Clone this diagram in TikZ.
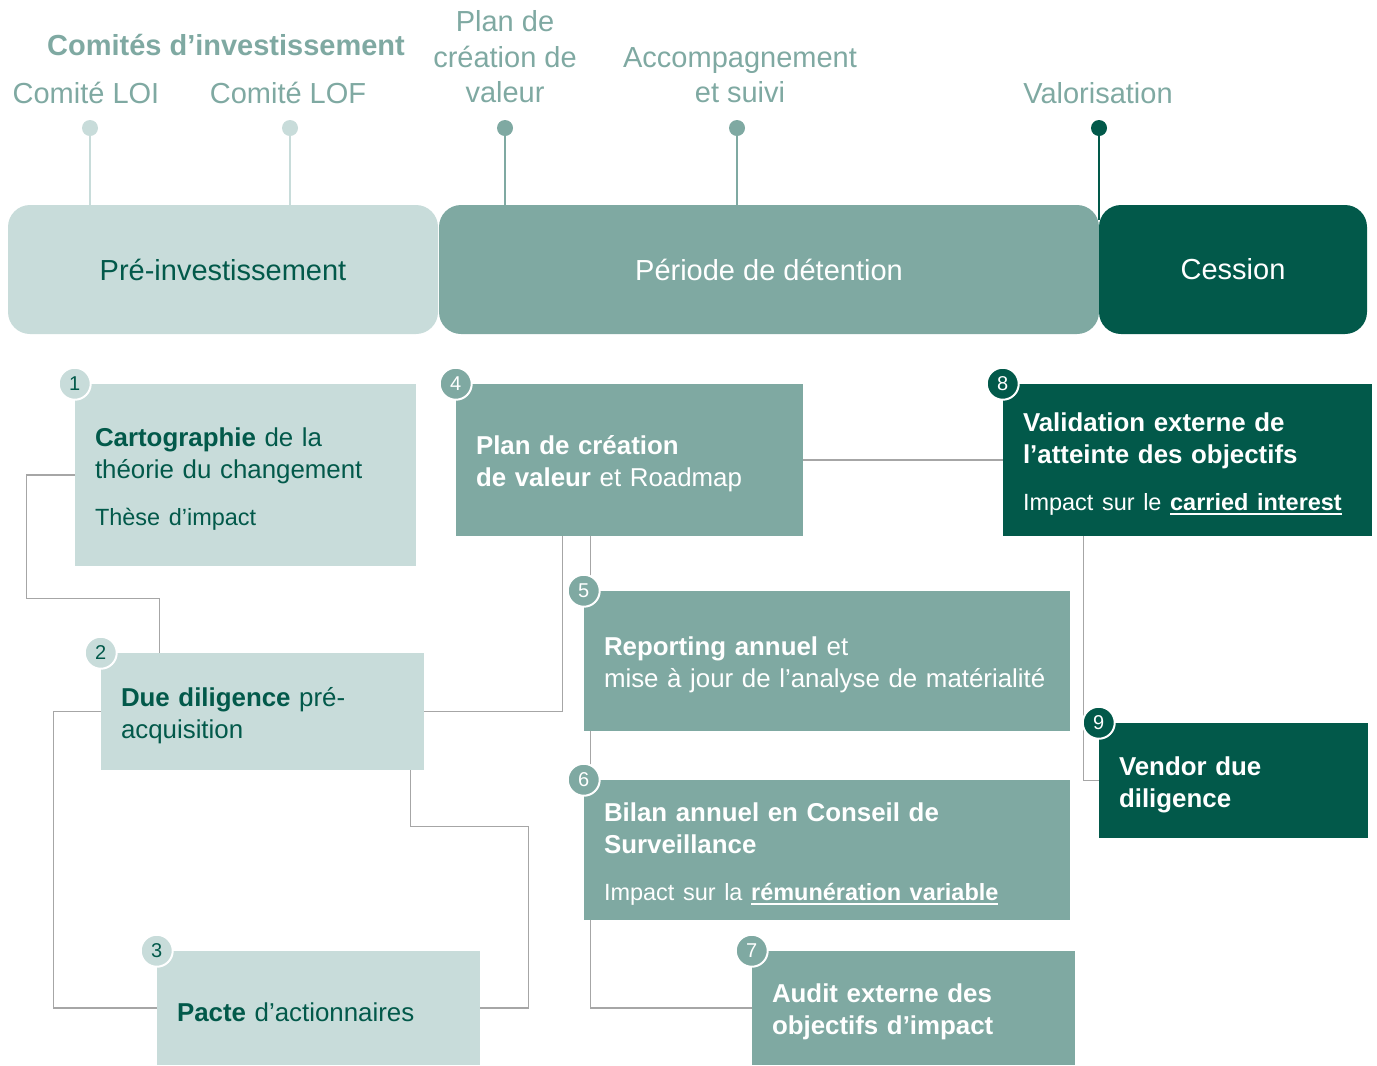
\documentclass[tikz,border=0pt]{standalone}
\usepackage{fontspec}
\setmainfont{Liberation Sans}
\usetikzlibrary{calc}

\definecolor{cLight}{RGB}{200,220,218}
\definecolor{cMid}{RGB}{127,169,162}
\definecolor{cDark}{RGB}{2,89,74}
\definecolor{cLine}{RGB}{166,166,166}

\newcommand{\fsHead}{\fontsize{21.75}{26.6}\selectfont}
\newcommand{\fsBox}{\fontsize{19.4}{24}\selectfont}
\newcommand{\fsSub}{\fontsize{17.6}{24}\selectfont}
\newcommand{\fsNum}{\fontsize{15}{18}\selectfont}
\newcommand{\ulink}[1]{\setbox0\hbox{\bfseries #1}\rlap{\rule[-4pt]{\wd0}{1.4pt}}\box0}

\begin{document}
\begin{tikzpicture}[x=0.75pt,y=0.75pt,yscale=-1,xscale=1,
  phasebar/.style={rounded corners=16.5pt, minimum height=96.75pt, inner sep=0pt, font=\fsHead},
  stepbox/.style={inner xsep=15pt, inner ysep=0pt, align=left, font=\fsBox,
    execute at begin node={\hyphenpenalty=10000\rule{0pt}{20pt}}},
  stepnum/.style={circle, draw=white, line width=1.5pt, minimum size=24pt, inner sep=0pt, font=\fsNum},
  pindot/.style={circle, minimum size=12pt, inner sep=0pt},
  pinline/.style={line width=1.5pt},
  toplabel/.style={text=cMid, font=\fsHead, align=center, inner sep=0pt},
  conn/.style={draw=cLine, line width=1.1pt}
]
\useasboundingbox (0,0) rectangle (1377,1065);

% Text Node
\node[toplabel, font=\fsHead\bfseries] (comites) at (226,45) {Comités d’investissement};
% Text Node
\node[toplabel] (loi) at (86,93) {Comité LOI};
% Text Node
\node[toplabel] (lof) at (288,93) {Comité LOF};
% Text Node
\node[toplabel] (plan) at (505,57) {Plan de\\création de\\valeur};
% Text Node
\node[toplabel] (accomp) at (740,75) {Accompagnement\\et suivi};
% Text Node
\node[toplabel] (valo) at (1098,93) {Valorisation};

%Shape: Rounded Rect
\node[phasebar, fill=cLight, text=cDark, minimum width=322.5pt] (pre) at (223,269.5) {Pré-investissement};
%Shape: Rounded Rect
\node[phasebar, fill=cMid, text=white, minimum width=495pt] (det) at (769,269.5) {Période de détention};
%Shape: Rounded Rect
\node[phasebar, fill=cDark, text=white, minimum width=201pt] (ces) at (1233,269.5) {Cession};

%Shape: Circle
\node[pindot, fill=cLight] (pLOI) at (90,128) {};
\draw[pinline, cLight] (pLOI) -- (pLOI |- pre.north);
%Shape: Circle
\node[pindot, fill=cLight] (pLOF) at (290,128) {};
\draw[pinline, cLight] (pLOF) -- (pLOF |- pre.north);
%Shape: Circle
\node[pindot, fill=cMid] (pPlan) at (505,128) {};
\draw[pinline, cMid] (pPlan) -- (pPlan |- det.north);
%Shape: Circle
\node[pindot, fill=cMid] (pAcc) at (737,128) {};
\draw[pinline, cMid] (pAcc) -- (pAcc |- det.north);
%Shape: Circle
\node[pindot, fill=cDark] (pVal) at (1099,128) {};
\draw[pinline, cDark] (pVal) -- ($(pVal |- ces.north)+(0,15)$);

%Shape: Rectangle
\node[stepbox, fill=cLight, text=cDark, text width=225.75pt, minimum height=136.5pt] (s1) at (245.5,475) {\textbf{Cartographie} de la\\théorie du changement\\[11pt]{\fsSub Thèse d’impact}};
%Shape: Rectangle
\node[stepbox, fill=cLight, text=cDark, text width=212.25pt, minimum height=87.75pt] (s2) at (262.5,711.5) {\textbf{Due diligence} pré-\\acquisition};
%Shape: Rectangle
\node[stepbox, fill=cLight, text=cDark, text width=212.25pt, minimum height=85.5pt] (s3) at (318.5,1008) {\textbf{Pacte} d’actionnaires};
%Shape: Rectangle
\node[stepbox, fill=cMid, text=white, text width=230.25pt, minimum height=114pt] (s4) at (629.5,460) {\textbf{Plan de création}\\\textbf{de valeur} et Roadmap};
%Shape: Rectangle
\node[stepbox, fill=cMid, text=white, text width=334.5pt, minimum height=105pt] (s5) at (827,661) {\textbf{Reporting annuel} et\\mise à jour de l’analyse de matérialité};
%Shape: Rectangle
\node[stepbox, fill=cMid, text=white, text width=334.5pt, minimum height=105pt] (s6) at (827,850) {\textbf{Bilan annuel en Conseil de}\\\textbf{Surveillance}\\[11pt]{\fsSub Impact sur la \ulink{rémunération variable}}};
%Shape: Rectangle
\node[stepbox, fill=cMid, text=white, text width=212.25pt, minimum height=85.5pt] (s7) at (913.5,1008) {\textbf{Audit externe des}\\\textbf{objectifs d’impact}};
%Shape: Rectangle
\node[stepbox, fill=cDark, text=white, text width=246.75pt, minimum height=114pt] (s8) at (1187.5,460) {\textbf{Validation externe de}\\\textbf{l’atteinte des objectifs}\\[11pt]{\fsSub Impact sur le \ulink{carried interest}}};
%Shape: Rectangle
\node[stepbox, fill=cDark, text=white, text width=171.75pt, minimum height=86.25pt] (s9) at (1233.5,780.5) {\textbf{Vendor due}\\\textbf{diligence}};

%Straight Lines
\draw[conn] (s1.west) -- ++(-48,0) |- ($(s2.north west)+(59,-54)$) -- ($(s2.north west)+(59,0)$);
\draw[conn] (s2.west) -- ++(-47,0) |- (s3.west);
\draw[conn] ($(s2.south east)+(-14,0)$) -- ++(0,56) -| ($(s3.east)+(48,0)$) -- (s3.east);
\draw[conn] (s2.east) -| ($(s4.south west)+(107,0)$);
\draw[conn] ($(s4.south west)+(135,0)$) -- ($(s5.north west)+(7,0)$);
\draw[conn] ($(s5.south west)+(7,0)$) -- ($(s6.north west)+(7,0)$);
\draw[conn] ($(s6.south west)+(7,0)$) |- (s7.west);
\draw[conn] (s4.east) -- (s8.west);
\draw[conn] ($(s8.south west)+(81,0)$) |- (s9.west);

%Shape: Circle
\node[stepnum, fill=cLight, text=cDark] (n1) at (s1.north west) {1};
\node[stepnum, fill=cLight, text=cDark] (n2) at (s2.north west) {2};
\node[stepnum, fill=cLight, text=cDark] (n3) at (s3.north west) {3};
\node[stepnum, fill=cMid, text=white] (n4) at (s4.north west) {4};
\node[stepnum, fill=cMid, text=white] (n5) at (s5.north west) {5};
\node[stepnum, fill=cMid, text=white] (n6) at (s6.north west) {6};
\node[stepnum, fill=cMid, text=white] (n7) at (s7.north west) {7};
\node[stepnum, fill=cDark, text=white] (n8) at (s8.north west) {8};
\node[stepnum, fill=cDark, text=white] (n9) at (s9.north west) {9};

\end{tikzpicture}
\end{document}
